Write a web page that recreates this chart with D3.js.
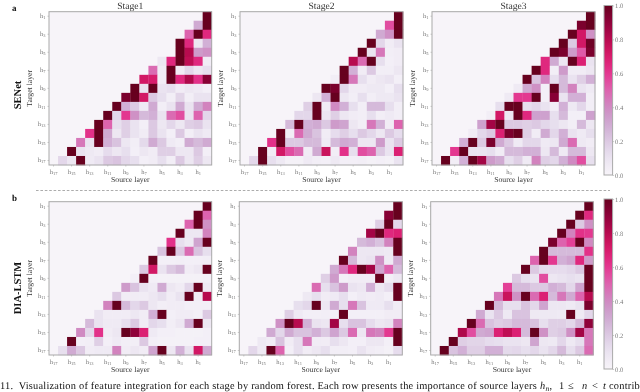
<!DOCTYPE html>
<html><head><meta charset="utf-8">
<style>html,body{margin:0;padding:0;background:#fff;overflow:hidden}svg{display:block;will-change:transform;opacity:.999}text{text-rendering:geometricPrecision}</style>
<script src="https://cdn.jsdelivr.net/npm/d3@7"></script></head><body>
<svg id="c" width="640" height="392"></svg>
<script>
const sources=["h17","h16","h15","h14","h13","h12","h11","h10","h9","h8","h7","h6","h5","h4","h3","h2","h1","h0"];
const targets=["h1","h2","h3","h4","h5","h6","h7","h8","h9","h10","h11","h12","h13","h14","h15","h16","h17"];
const xTickLabels=["h17","h15","h13","h11","h9","h7","h5","h3","h1"];
const yTickLabels=["h1","h3","h5","h7","h9","h11","h13","h15","h17"];
const cbTicks=[0,0.2,0.4,0.6,0.8,1.0];
const titles=["Stage1","Stage2","Stage3"];
const rowNames=["SENet","DIA-LSTM"];
const xLabel="Source layer", yLabel="Target layer";
const caption="11.  Visualization of feature integration for each stage by random forest. Each row presents the importance of source layers ";
const senetStage1=[[1],[.3,1],[.5,1,.65],[1,.65,.08,.28],[0,1,.8,.35,.38],[.08,.65,1,.78,.65,.05],
[.48,.05,1,.05,.15,.08,.12],[.72,.7,.05,1,.65,.82,.62,.92],[1,.1,1,.1,.12,.05,.08,.06,.03],
[.95,1,.72,.2,.12,.04,.16,.04,.1,.1],[1,.28,.2,.06,.3,.04,.1,.3,.1,.3,.42],
[1,.15,.6,.38,.25,.28,.1,.48,.55,.1,.5,.15],[1,.5,.12,.18,.1,.03,.2,.08,.15,.08,.18,.2,.1],
[.62,1,.3,.08,.18,.1,.05,.2,.1,.03,.2,.04,.1,.06],[.45,.1,1,.28,.22,.08,.04,.14,.3,.2,.06,.04,.3,.25,.3],
[1,.1,.07,.05,.13,.08,.12,.03,.08,.05,.18,.18,.08,.08,.2,.03],
[.15,.08,1,.06,.1,.2,.22,.15,.12,.03,.05,.12,.04,.2,.08,.18,.08]];
const senetStage2=[[1],[.55,1],[.3,.38,1],[1,.15,.05,.1],[1,.1,.45,.04,.05],[.8,.48,1,.12,.03,.05],
[1,.28,.05,.2,.04,.04,.08],[.04,1,.45,.12,.05,.08,.1,.03],[1,.95,.15,.05,.05,.07,.07,.03,.12],
[.08,.28,1,.08,.04,.12,.04,.07,.07,.1],[.18,1,.05,.4,.28,.12,.04,.25,.25,.12,.04],
[.15,.15,1,.08,.18,.08,.05,.04,.12,.04,.06,.04],[.25,1,.28,.3,.2,.35,.32,.08,.04,.45,.28,.05,.5],
[1,.04,.48,.3,.22,.05,.13,.18,.12,.2,.15,.08,.2,.13],[.62,1,.2,.2,.25,.25,.06,.25,.3,.28,.08,.08,.35,.1,.2],
[1,.05,.72,.55,.48,.05,.3,.75,.04,.62,.12,.55,.5,.2,.1,.68],
[.15,1,.12,.07,.02,.02,.06,.04,.03,.07,.03,.03,.04,.02,.03,.02,.1]];
const senetStage3=[[1],[.95,1],[1,.72,.38],[1,.2,.72,.98],[1,.95,.35,.52,.95],[.65,.3,.08,1,.68,.1],
[1,.65,.04,.35,.05,.05,.08],[1,.22,.42,.12,.25,.1,.18,.28],[.06,.3,.38,.03,1,.25,.42,.1,.06],
[.06,.6,.6,1,.03,.92,.1,.28,.28,.04],[.12,1,1,.12,.15,.1,.04,.28,.07,.15,.04],
[.04,.72,.08,1,.65,.33,.33,.12,.25,.03,.03,.33],[.33,.85,1,.2,.2,.18,.2,.15,.12,.08,.04,.25,.08],
[.05,.15,.2,.68,.95,1,.18,.05,.3,.15,.28,.1,.06,.12],[.28,1,.2,.95,.3,.2,.06,.15,.15,.06,.08,.3,.48,.07,.05],
[.6,1,.1,.1,.12,.05,.25,.25,.28,.28,.08,.25,.06,.25,.25,.08],
[1,.04,.28,1,.85,.35,.3,.12,.18,.06,.42,.18,.15,.28,.4,.55,.12]];
const diaStage1=[[1],[1,.5],[.5,1,.38],[1,.08,.08,.42],[.62,.12,.07,.32,1],[.22,1,.2,.48,.22,.12],
[1,.03,.03,.04,.03,.03,.04],[.2,.72,.1,.2,.25,.05,.08,1],[.03,1,.03,.02,.02,.02,.02,.02,.03],
[.35,.22,.1,.06,.3,.08,.05,.15,1,.06],[.2,.05,.05,.05,.08,.12,.05,.1,1,.05,.8],
[.42,1,.25,.15,.2,.08,.04,.05,.05,.03,.03,.03],[.1,.05,.05,.05,.08,.05,.28,1,.03,.05,.05,.03,.2],
[.25,.1,.06,.06,.12,.2,.05,.15,.12,.04,.08,.3,1,.08],[.4,.15,.62,.05,.08,1,.9,.68,.06,.03,.03,.02,.02,.02,.03],
[1,.03,.04,.18,.03,.06,.04,.04,.2,.03,.02,.02,.02,.02,.03,.03],
[.12,.3,.2,.05,.06,.06,.42,.05,.08,.05,.32,1,.08,.28,.1,.72,.3]];
const diaStage2=[[1],[.92,1],[.18,1,.15],[.85,1,.65,.68],[.25,.28,.22,.42,1],[.42,.08,.08,.08,.07,1],
[1,.25,.08,.1,.38,.06,.3],[.3,.45,.65,1,.85,.32,.5,.25],[.18,.35,.03,.05,.05,.05,1,.04,.08],
[.48,.12,.22,.35,.1,.08,.28,.08,.13,1],[.07,.12,.05,.06,.12,.03,.06,.05,.06,.03,1],
[.12,.15,1,.08,.3,.12,.45,.22,.06,.06,.12,.05],[.18,.06,.03,.03,.04,.03,1,.03,.03,.03,.03,.05,.05],
[.38,1,.8,.28,.1,.08,.85,.12,.22,.22,.13,.08,.1,.42],[.3,.15,.3,.22,.22,.28,.2,.32,.2,.48,.08,.45,.42,.6,1],
[.07,.05,.22,.05,.12,.45,.05,.05,.12,.08,.03,.03,.08,.08,.03,1],
[.15,.06,1,.5,.03,.12,.05,.08,.12,.04,.04,.03,.1,.05,.04,.02,.13]];
const diaStage3=[[1],[1,.65],[1,.2,.38],[1,.42,.62,.6],[.95,.5,.58,1,.4],[1,.25,.25,.25,.25,.62],
[.5,1,.6,.28,.32,.65,.35],[1,.2,.13,.13,.13,.15,.2,1],[.2,.12,.1,.55,.08,.1,.12,.1,1],
[.58,.25,.25,.2,.2,.28,.25,.15,.32,1],[.45,.75,.38,1,.48,.68,.25,.45,.3,.5,.8],
[1,.25,.12,.12,.22,.15,.32,.08,.08,.06,.1,.95],[.3,.1,.2,.07,.22,.22,.07,.07,.07,.06,1,.06,.15],
[1,.48,.22,.18,.2,.25,.25,.22,.12,.18,.18,.15,.25,.9],[.82,.55,.3,.32,.68,.78,.68,.25,1,.38,.18,.2,.38,.85,.45],
[1,.18,.16,.16,.13,.12,.1,.1,.08,.32,.08,.07,.15,.07,.12,.45],
[1,.22,.28,.18,.18,.28,.28,.14,.15,.12,.15,.1,.15,.25,.12,.2,.48]];

const svg=d3.select("#c");
const serif="'Liberation Serif','Times New Roman',serif";
const gray="#7a7a7a", frame="#a9a9a9";
const color=d3.scaleSequential(d3.interpolatePuRd).domain([0,1]);

function subLabel(sel){
  sel.each(function(){
    const t=d3.select(this), s=t.text(); t.text(null);
    t.append("tspan").attr("font-size",6.5).text(s[0]);
    t.append("tspan").attr("font-size",4.5).attr("dy",1.2).text(s.slice(1));
  });
}
function panel(data,x0,x1,y0,y1,title){
  const x=d3.scaleBand().domain(sources).range([x0,x1]);
  const y=d3.scaleBand().domain(targets).range([y0,y1]);
  const g=svg.append("g");
  g.append("rect").attr("x",x0).attr("y",y0).attr("width",x1-x0).attr("height",y1-y0).attr("fill",color(0));
  const cells=data.flatMap((r,i)=>r.map((v,j)=>({v,t:targets[i],s:sources[sources.length-r.length+j]})));
  g.selectAll("rect.cell").data(cells).join("rect").attr("class","cell")
    .attr("x",d=>x(d.s)).attr("y",d=>y(d.t))
    .attr("width",x.bandwidth()+.3).attr("height",y.bandwidth()+.3)
    .attr("fill",d=>color(d.v));
  g.append("rect").attr("x",x0).attr("y",y0).attr("width",x1-x0).attr("height",y1-y0)
    .attr("fill","none").attr("stroke",frame).attr("stroke-width",1);
  const ax=g.append("g").attr("transform",`translate(0,${y1})`)
    .call(d3.axisBottom(x).tickValues(xTickLabels).tickSize(1.5).tickPadding(3));
  const ay=g.append("g").attr("transform",`translate(${x0},0)`)
    .call(d3.axisLeft(y).tickValues(yTickLabels).tickSize(1.5).tickPadding(2));
  for(const a of [ax,ay]){
    a.select(".domain").remove();
    a.selectAll("line").attr("stroke",frame).attr("stroke-width",.6);
    a.selectAll("text").attr("fill",gray).attr("font-family",serif).attr("dy",null).call(subLabel);
  }
  ax.selectAll("text").attr("y",8.5);
  ay.selectAll("text").attr("y",1.6);
  const cx=(x0+x1)/2, cy=(y0+y1)/2;
  g.append("text").attr("x",cx).attr("y",y1+16.5).attr("text-anchor","middle").attr("font-family",serif)
    .attr("font-size",7.7).attr("fill","#333").text(xLabel);
  g.append("text").attr("transform",`translate(${x0-17.5},${cy}) rotate(-90)`).attr("text-anchor","middle")
    .attr("font-family",serif).attr("font-size",7.7).attr("fill","#333").text(yLabel);
  if(title) g.append("text").attr("x",cx).attr("y",y0-3).attr("text-anchor","middle")
    .attr("font-family",serif).attr("font-size",9.6).attr("fill","#333").text(title);
}
function colorbar(x0,x1,y0,y1,id){
  const s=d3.scaleLinear().domain([0,1]).range([y1,y0]);
  const grad=svg.append("defs").append("linearGradient").attr("id",id).attr("x1",0).attr("x2",0).attr("y1",1).attr("y2",0);
  d3.range(0,1.001,.05).forEach(t=>grad.append("stop").attr("offset",t).attr("stop-color",color(t)));
  svg.append("rect").attr("x",x0).attr("y",y0).attr("width",x1-x0).attr("height",y1-y0)
    .attr("fill",`url(#${id})`).attr("stroke",frame).attr("stroke-width",1);
  const a=svg.append("g").attr("transform",`translate(${x1},0)`)
    .call(d3.axisRight(s).tickValues(cbTicks).tickFormat(d3.format(".1f")).tickSize(1.5).tickPadding(1));
  a.select(".domain").remove();
  a.selectAll("line").attr("stroke",frame).attr("stroke-width",.6);
  a.selectAll("text").attr("fill",gray).attr("font-family",serif).attr("font-size",6.6).attr("dy",null).attr("y",2.2);
}
const xs=[[49,211.7],[240,403],[432,595]];
const xs2=[[49,211.7],[239.3,402.3],[430.7,593.3]];
[senetStage1,senetStage2,senetStage3].forEach((d,i)=>panel(d,xs[i][0],xs[i][1],11.7,165,titles[i]));
[diaStage1,diaStage2,diaStage3].forEach((d,i)=>panel(d,xs2[i][0],xs2[i][1],201.7,355,null));
colorbar(604,612.6,5.5,175,"cb1");
colorbar(604,612.6,199,369,"cb2");

svg.append("line").attr("x1",36).attr("x2",610).attr("y1",190.5).attr("y2",190.5)
  .attr("stroke","#888").attr("stroke-width",.7).attr("stroke-dasharray","2.6 1.8");
[["a",12,11],["b",12,201]].forEach(([t,x,y])=>svg.append("text").attr("x",x).attr("y",y)
  .attr("font-family",serif).attr("font-weight","bold").attr("font-size",9).attr("fill","#111").text(t));
[[20.5,95,rowNames[0]],[20.5,288,rowNames[1]]].forEach(([x,y,t])=>svg.append("text")
  .attr("transform",`translate(${x},${y}) rotate(-90)`).attr("text-anchor","middle")
  .attr("font-family",serif).attr("font-weight","bold").attr("font-size",10.5).attr("fill","#111").text(t));

const cap=svg.append("text").attr("y",389).attr("font-family",serif).attr("font-size",10.4)
  .attr("fill","#111").attr("letter-spacing",".21").style("white-space","pre");
cap.append("tspan").attr("x",0).text(caption);
cap.append("tspan").attr("x",540).attr("font-style","italic").text("h");
cap.append("tspan").attr("font-style","italic").attr("font-size",7.5).attr("dy",1.5).text("n");
cap.append("tspan").attr("dy",-1.5).text(",");
cap.append("tspan").attr("x",559).text("1");
cap.append("tspan").attr("x",568).text("≤");
cap.append("tspan").attr("x",582).attr("font-style","italic").text("n");
cap.append("tspan").attr("x",592).text("<");
cap.append("tspan").attr("x",603).attr("font-style","italic").text("t");
cap.append("tspan").attr("x",609).text("contrib");
</script></body></html>
